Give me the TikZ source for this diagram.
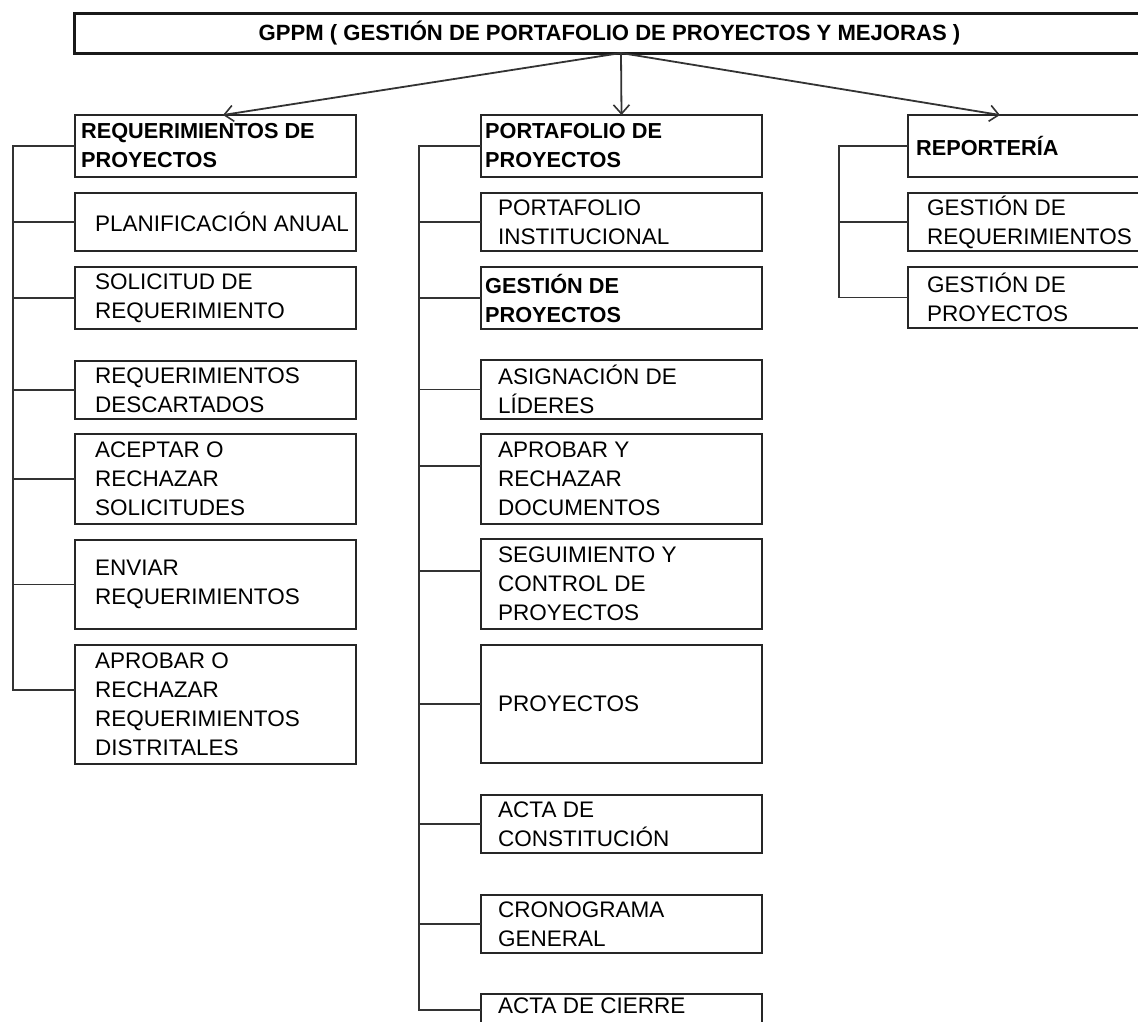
\documentclass[tikz,border=0pt]{standalone}
\usepackage{fontspec}
\setmainfont{Liberation Sans}
\usetikzlibrary{arrows.meta}
\begin{document}
\begin{tikzpicture}[x=1pt,y=-1pt,
  box/.style={draw=black!85, line width=1.8pt, inner sep=0pt, outer sep=0pt},
  rtxt/.style={font=\fontsize{22.5}{29}\selectfont, align=left, inner sep=0pt, anchor=west},
  btxt/.style={font=\fontsize{21.7}{29}\selectfont\bfseries, align=left, inner sep=0pt, anchor=west},
  conn/.style={draw=black!80, line width=1.8pt},
  arr/.style={conn, -{Straight Barb[length=9pt,width=16pt,line width=1.6pt]}}]
\useasboundingbox (0,0) rectangle (1138,1021);

% title
\node[draw=black!90, line width=3pt, minimum width=1071pt, minimum height=40pt, inner sep=0pt, outer sep=0pt,
      font=\fontsize{22.1}{26}\selectfont\bfseries] (top) at (609.5,33)
      {GPPM ( GESTIÓN DE PORTAFOLIO DE PROYECTOS Y MEJORAS )};

% column 1
\node[box, minimum width=281pt, minimum height=62pt] (req)   at (215.5,146) {};
\node[box, minimum width=281pt, minimum height=58pt] (plan)  at (215.5,222) {};
\node[box, minimum width=281pt, minimum height=62pt] (sol)   at (215.5,298) {};
\node[box, minimum width=281pt, minimum height=58pt] (rdesc) at (215.5,390) {};
\node[box, minimum width=281pt, minimum height=90pt] (acep)  at (215.5,479) {};
\node[box, minimum width=281pt, minimum height=89pt] (env)   at (215.5,584.5) {};
\node[box, minimum width=281pt, minimum height=119pt] (apr)  at (215.5,704.5) {};

\node[btxt] (reqT)   at ([xshift=6pt]req.west)    {REQUERIMIENTOS DE\\PROYECTOS};
\node[rtxt] (planT)  at ([xshift=20pt]plan.west)  {PLANIFICACIÓN ANUAL};
\node[rtxt] (solT)   at ([xshift=20pt]sol.west)   {SOLICITUD DE\\REQUERIMIENTO};
\node[rtxt] (rdescT) at ([xshift=20pt]rdesc.west) {REQUERIMIENTOS\\DESCARTADOS};
\node[rtxt] (acepT)  at ([xshift=20pt]acep.west)  {ACEPTAR O\\RECHAZAR\\SOLICITUDES};
\node[rtxt] (envT)   at ([xshift=20pt]env.west)   {ENVIAR\\REQUERIMIENTOS};
\node[rtxt] (aprT)   at ([xshift=20pt]apr.west)   {APROBAR O\\RECHAZAR\\REQUERIMIENTOS\\DISTRITALES};

% column 2
\node[box, minimum width=281pt, minimum height=62pt] (port)  at (621.5,146) {};
\node[box, minimum width=281pt, minimum height=58pt] (pinst) at (621.5,222) {};
\node[box, minimum width=281pt, minimum height=62pt] (gest)  at (621.5,298) {};
\node[box, minimum width=281pt, minimum height=59pt] (asig)  at (621.5,389.5) {};
\node[box, minimum width=281pt, minimum height=90pt] (apy)   at (621.5,479) {};
\node[box, minimum width=281pt, minimum height=90pt] (seg)   at (621.5,584) {};
\node[box, minimum width=281pt, minimum height=118pt] (proy) at (621.5,704) {};
\node[box, minimum width=281pt, minimum height=58pt] (acon)  at (621.5,824) {};
\node[box, minimum width=281pt, minimum height=58pt] (crono) at (621.5,924) {};
\node[box, minimum width=281pt, minimum height=60pt] (acie)  at (621.5,1024) {};

\node[btxt] (portT)  at ([xshift=4pt]port.west)   {PORTAFOLIO DE\\PROYECTOS};
\node[rtxt] (pinstT) at ([xshift=17pt]pinst.west) {PORTAFOLIO\\INSTITUCIONAL};
\node[btxt] (gestT)  at ([xshift=4pt]gest.west)   {GESTIÓN DE\\PROYECTOS};
\node[rtxt] (asigT)  at ([xshift=17pt]asig.west)  {ASIGNACIÓN DE\\LÍDERES};
\node[rtxt] (apyT)   at ([xshift=17pt]apy.west)   {APROBAR Y\\RECHAZAR\\DOCUMENTOS};
\node[rtxt] (segT)   at ([xshift=17pt]seg.west)   {SEGUIMIENTO Y\\CONTROL DE\\PROYECTOS};
\node[rtxt] (proyT)  at ([xshift=17pt]proy.west)  {PROYECTOS};
\node[rtxt] (aconT)  at ([xshift=17pt]acon.west)  {ACTA DE\\CONSTITUCIÓN};
\node[rtxt] (cronoT) at ([xshift=17pt]crono.west) {CRONOGRAMA\\GENERAL};
\node[rtxt, anchor=base west] (acieT) at ([xshift=17pt,yshift=-19pt]acie.north west) {ACTA DE CIERRE};

% column 3
\node[box, minimum width=240pt, minimum height=62pt] (rep)  at (1028,146) {};
\node[box, minimum width=240pt, minimum height=58pt] (greq) at (1028,222) {};
\node[box, minimum width=240pt, minimum height=61pt] (gpro) at (1028,297.5) {};

\node[btxt] (repT)  at ([xshift=8pt]rep.west)   {REPORTERÍA};
\node[rtxt] (greqT) at ([xshift=19pt]greq.west) {GESTIÓN DE\\REQUERIMIENTOS};
\node[rtxt] (gproT) at ([xshift=19pt]gpro.west) {GESTIÓN DE\\PROYECTOS};

% arrows from title
\coordinate (src) at ([xshift=11.5pt]top.south);
\draw[arr] (src) -- ([xshift=7.5pt]req.north);
\draw[arr] (src) -- (port.north);
\draw[arr] (src) -- ([xshift=-28pt]rep.north);

% spine column 1
\coordinate (spA) at (13,0);
\coordinate (aprC) at ([yshift=14.5pt]apr.west);
\draw[conn] (req.west) -- (req.west -| spA) -- (aprC -| spA) -- (aprC);
\foreach \b in {plan,sol,rdesc,acep,env}
  \draw[conn] (\b.west) -- (\b.west -| spA);

% spine column 2
\coordinate (spB) at (419,0);
\coordinate (apyC) at ([yshift=13pt]apy.west);
\coordinate (segC) at ([yshift=13pt]seg.west);
\coordinate (acieC) at ([yshift=14pt]acie.west);
\draw[conn] (port.west) -- (port.west -| spB) -- (acieC -| spB) -- (acieC);
\foreach \b in {pinst,gest,asig,apyC,segC,proy.west,acon,crono}
  \draw[conn] (\b) -- (\b -| spB);

% spine column 3
\coordinate (spC) at (839,0);
\draw[conn] (rep.west) -- (rep.west -| spC) -- (gpro.west -| spC) -- (gpro.west);
\draw[conn] (greq.west) -- (greq.west -| spC);
\end{tikzpicture}
\end{document}
